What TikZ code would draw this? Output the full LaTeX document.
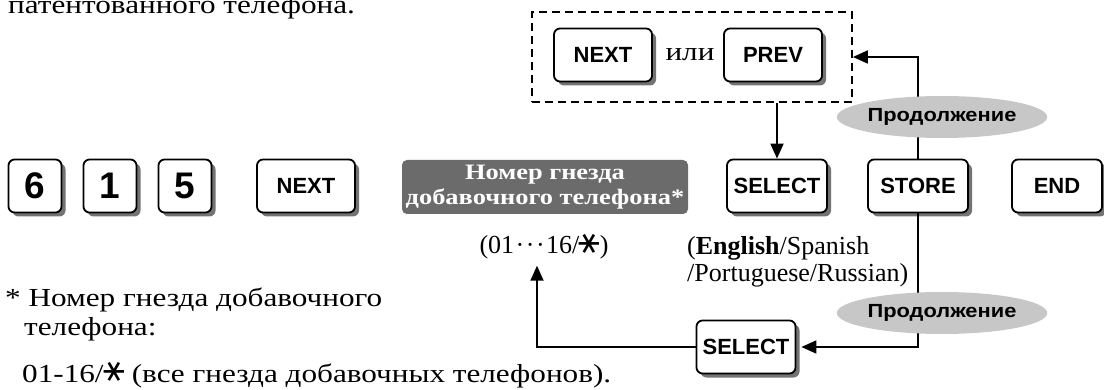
\documentclass[tikz,border=0pt]{standalone}
\usepackage{fontspec}
\usepackage{graphicx}
\setmainfont{Liberation Serif}
\newfontfamily\cyr[FakeStretch=1.2]{Liberation Serif}
\newfontfamily\keyfont{Liberation Sans}
\newfontfamily\cyrsans[FakeStretch=1.15]{Liberation Sans}
\newfontfamily\symfont{DejaVu Sans}
\usetikzlibrary{shapes.geometric,arrows.meta,shadows}
\newcommand\sixast{{\symfont\scalebox{1.25}{\rotatebox[origin=c]{90}{∗}}}}
\begin{document}
\begin{tikzpicture}[x=1pt,y=-1pt,
  key/.style={draw, line width=1.8pt, rounded corners=6pt, fill=white,
    font=\keyfont\bfseries\fontsize{22}{24}\selectfont, inner sep=0pt,
    minimum width=98pt, minimum height=53pt,
    drop shadow={shadow xshift=4pt, shadow yshift=-4pt, fill=black!55, opacity=1}},
  digit/.style={key, minimum width=53pt, font=\keyfont\bfseries\fontsize{37}{38}\selectfont},
  gbox/.style={fill=black!58, rounded corners=5pt, text=white, align=center,
    font=\cyr\bfseries\fontsize{22}{25}\selectfont, minimum width=286pt, minimum height=54pt, inner sep=0pt},
  cont/.style={ellipse, fill=black!22, minimum width=165pt, minimum height=42pt, inner sep=0pt,
    font=\cyrsans\bfseries\fontsize{19}{20}\selectfont},
  grpbox/.style={draw, line width=1.8pt, dash pattern=on 8pt off 5pt, minimum width=320pt,
    minimum height=90pt, inner sep=0pt},
  txt/.style={font=\fontsize{26}{30}\selectfont, inner sep=0pt},
  ctxt/.style={font=\cyr\fontsize{26}{30}\selectfont, inner sep=0pt},
  arr/.style={line width=1.8pt, -{Triangle[length=15pt,width=13pt]}}]
\useasboundingbox (0,0) rectangle (1104,390);

% top text
\node[ctxt, anchor=base west] (top) at (8,14) {патентованного телефона.};

% main row
\node[digit] (k6) at (35,186) {6};
\node[digit] (k1) at (110,186) {1};
\node[digit] (k5) at (185,186) {5};
\node[key] (knext) at (306,186) {NEXT};
\node[gbox] (jack) at (545,187) {Номер гнезда\\добавочного телефона*};
\node[key, minimum width=100pt] (sel) at (777,186) {SELECT};
\node[key, minimum width=100pt] (store) at (918,186) {STORE};
\node[key, minimum width=90pt] (kend) at (1057,186) {END};

% dashed group
\node[grpbox] (grp) at (692,57) {};
\node[key] (gnext) at (603,55) {NEXT};
\node[ctxt] (ili) at (690,55) {или};
\node[key] (gprev) at (773,55) {PREV};

% labels
\node[txt, anchor=base] (rng) at (544,254) {(01\kern1.5pt·\kern1.5pt·\kern1.5pt·\kern1.5pt16/\sixast)};
\node[txt, anchor=base west] (lang1) at (687,255) {(\textbf{English}/Spanish};
\node[txt, anchor=base west] (lang2) at (687,282) {/Portuguese/Russian)};

% bottom select
\node[key, minimum width=99pt] (sel2) at (746,347) {SELECT};

% connectors
\draw[arr] (sel.north |- grp.south) -- (sel.north);
\draw[arr] (store.north) |- (grp.east);
\draw[arr, shorten >=5pt] (store.south) |- (sel2.east);
\draw[arr] (sel2.west) -| ([xshift=-7pt,yshift=-6pt]rng.south);

% continuation ellipses
\node[cont] (c1) at (942,117) {Продолжение};
\node[cont] (c2) at (942,313) {Продолжение};

% footnote
\node[ctxt, anchor=base west] (fn1) at (5,307) {* Номер гнезда добавочного};
\node[ctxt, anchor=base west] (fn2) at (24,335) {телефона:};
\node[ctxt, anchor=base west] (fn3) at (22,382) {01-16/\sixast{} (все гнезда добавочных телефонов).};
\end{tikzpicture}
\end{document}
